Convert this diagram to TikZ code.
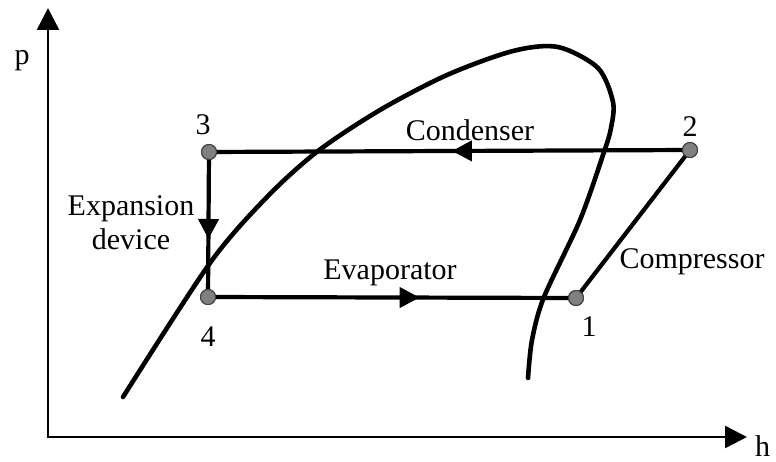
\documentclass[tikz,border=0pt]{standalone}
\usepackage{fontspec}
\setmainfont{Liberation Serif}
\usetikzlibrary{arrows.meta,decorations.markings}
\begin{document}
\begin{tikzpicture}[x=1pt,y=-1pt,
  txt/.style={font=\fontsize{30}{34}\selectfont, inner sep=0pt, anchor=center},
  statept/.style={circle, draw=black!75, line width=1pt, fill=black!50, minimum size=15pt, inner sep=0pt},
  cyc/.style={line width=4.2pt},
  dome/.style={line width=4.6pt, line cap=round},
  axis/.style={line width=2.4pt, -{Triangle[length=22pt,width=22pt]}},
  midarrow/.style={postaction={decorate}, decoration={markings, mark=at position #1 with {\arrow{Triangle[length=20pt,width=20pt]}}}}
]
\useasboundingbox (0,0) rectangle (776,462);
% axes
\coordinate (O) at (48,437);
\coordinate (ytip) at (48,8);
\coordinate (xtip) at (747,437);
\draw[axis] (O) -- (ytip);
\draw[axis] ([xshift=-1.2pt]O) -- (xtip);
\node[txt] (plab) at (22,61) {p};
\node[txt, anchor=west] (hlab) at (755,446) {h};
% saturation dome
\draw[dome] plot[smooth, tension=0.5] coordinates {(123,397) (210,263) (267,197) (318,151) (380,110) (447,75) (513,51) (558,47) (598,68) (613,102) (611,128) (604,152) (580,220) (544,297) (532,340) (528,378)};
% state points
\node[statept] (n3) at (209,152) {};
\node[statept] (n2) at (690,150) {};
\node[statept] (n4) at (208,297) {};
\node[statept] (n1) at (576,298) {};
% cycle lines
\draw[cyc, midarrow=0.495] (n2.center) -- (n3.center);
\draw[cyc, midarrow=0.6] (n3.center) -- (n4.center);
\draw[cyc, midarrow=0.575] (n4.center) -- (n1.center);
\draw[cyc] (n1.center) -- (n2.center);
% redraw points on top
\node[statept] at (n3) {};
\node[statept] at (n2) {};
\node[statept] at (n4) {};
\node[statept] at (n1) {};
% labels
\node[txt] (l3) at (203,125) {3};
\node[txt] (l2) at (690,127) {2};
\node[txt] (l4) at (208,337) {4};
\node[txt] (l1) at (589,327) {1};
\node[txt] (cond) at (470,130) {Condenser};
\node[txt] (evap) at (390,273) {Evaporator};
\node[txt] (comp) at (692,262) {Compressor};
\node[txt, align=center] (exp) at (131,223) {Expansion\\device};
\end{tikzpicture}
\end{document}
